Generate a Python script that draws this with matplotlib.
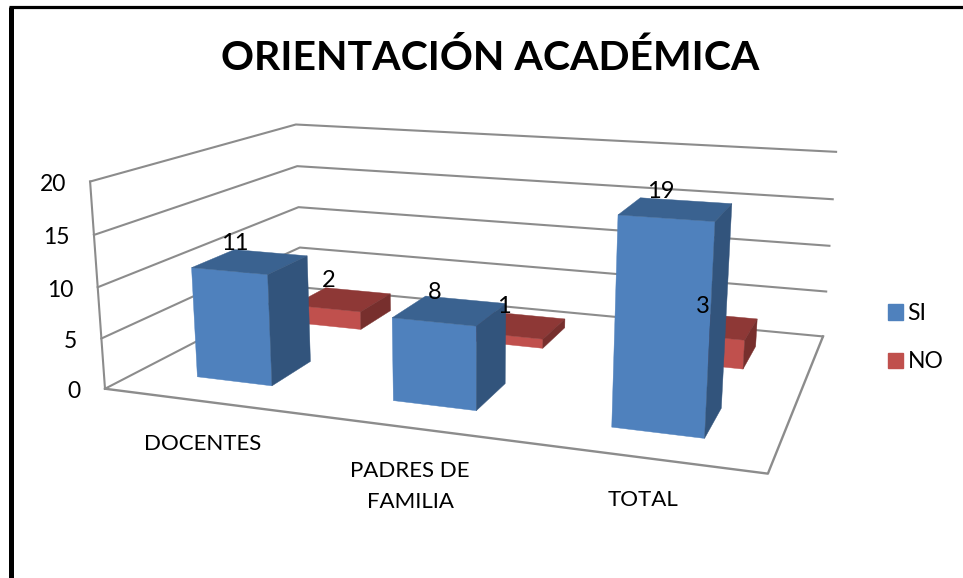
import numpy as np
import matplotlib
matplotlib.use("Agg")
import matplotlib.pyplot as plt
from matplotlib.patches import Polygon, Patch

plt.rcParams['font.family'] = ['Lato', 'DejaVu Sans']

# Datos
titulo = "ORIENTACIÓN ACADÉMICA"
categorias = ["DOCENTES", "PADRES DE\nFAMILIA", "TOTAL"]
si = [11, 8, 19]
no = [2, 1, 3]
ticks_z = [0, 5, 10, 15, 20]

# Estilo
Z_MAX = 20
ANCHO = 0.131
FONDO = 0.20
CENTRO_SI = 0.25
CENTRO_NO = 0.75
COLOR_SI = ("#4F81BD", "#3A6290", "#32547C")
COLOR_NO = ("#C0504D", "#8E3836", "#772F2D")
GRIS = "#8C8C8C"


# Camara: esquinas de la caja (u, v, z) -> pixel de la imagen
esquinas = [((0, 0, 0), (105, 388)), ((0, 0, 1), (90, 182)), ((1, 0, 0), (768, 474)),
            ((0, 1, 0), (301, 288)), ((0, 1, 1), (296, 124)),
            ((1, 1, 0), (823, 336)), ((1, 1, 1), (836, 152))]


def calcular_camara(puntos):
    filas = []
    for (u, v, w), (px, py) in puntos:
        filas.append([u, v, w, 1, 0, 0, 0, 0, -px*u, -px*v, -px*w, -px])
        filas.append([0, 0, 0, 0, u, v, w, 1, -py*u, -py*v, -py*w, -py])
    return np.linalg.svd(np.array(filas, dtype=float))[2][-1].reshape(3, 4)


CAM = calcular_camara(esquinas)


def proyectar(u, v, z):
    p = CAM @ np.array([u, v, z / Z_MAX, 1.0])
    return p[0] / p[2], p[1] / p[2]


def barra(ax, i, valor, centro_v, colores):
    cu = (i + 0.5) / 3 + 0.001
    u0, u1 = cu - ANCHO / 2, cu + ANCHO / 2
    v0, v1 = centro_v - FONDO / 2, centro_v + FONDO / 2
    frente = [(u0, v0, 0), (u1, v0, 0), (u1, v0, valor), (u0, v0, valor)]
    arriba = [(u0, v0, valor), (u1, v0, valor), (u1, v1, valor), (u0, v1, valor)]
    lado = [(u1, v0, 0), (u1, v1, 0), (u1, v1, valor), (u1, v0, valor)]
    for cara, color in zip((frente, arriba, lado), colores):
        ax.add_patch(Polygon([proyectar(*p) for p in cara], closed=True, zorder=3,
                             facecolor=color, edgecolor=color, linewidth=0.3))


fig = plt.figure(figsize=(9.63, 5.78), dpi=100)
ax = fig.add_axes([0, 0, 1, 1])
ax.set_xlim(0, 963)
ax.set_ylim(578, 0)
ax.axis("off")

# Marco negro
ax.plot([11, 11], [578, 6.5], color="black", linewidth=3.6, solid_capstyle="butt")
ax.plot([8.5, 963], [6.5, 6.5], color="black", linewidth=2.3, solid_capstyle="butt")

# Paredes y piso
for t in ticks_z:
    a, b, c = proyectar(0, 0, t), proyectar(0, 1, t), proyectar(1, 1, t)
    ax.plot([a[0], b[0], c[0]], [a[1], b[1], c[1]], color=GRIS, linewidth=1.5, zorder=2)
    ax.text(a[0] - 24, a[1] + 3, str(t), ha="right", va="center", fontsize=16.5)

a, b = proyectar(0, 0, 0), proyectar(0, 0, Z_MAX)
ax.plot([a[0], b[0]], [a[1], b[1]], color=GRIS, linewidth=1.5, zorder=2)
piso = [proyectar(0, 0, 0), proyectar(1, 0, 0), proyectar(1, 1, 0)]
ax.plot([p[0] for p in piso], [p[1] for p in piso], color=GRIS, linewidth=1.7, zorder=2)

# Barras: primero la serie de atras
for i, valor in enumerate(no):
    barra(ax, i, valor, CENTRO_NO, COLOR_NO)
for i, valor in enumerate(si):
    barra(ax, i, valor, CENTRO_SI, COLOR_SI)

# Etiquetas de datos
desvio_no = [-13, -13, -7]
for i in range(3):
    cu = (i + 0.5) / 3
    x, y = proyectar(cu, CENTRO_SI, si[i])
    ax.text(x - 15, y - 18, str(si[i]), ha="center", va="center", fontsize=17, zorder=5)
    x, y = proyectar(cu, CENTRO_NO, no[i])
    ax.text(x + desvio_no[i], y - 19, str(no[i]), ha="center", va="center", fontsize=17, zorder=5)

# Categorias
for i, nombre in enumerate(categorias):
    x, y = proyectar((i + 0.5) / 3, 0, 0)
    ax.text(x + 2, y + 33, nombre, ha="center", va="top", fontsize=16, linespacing=1.7)

ax.text(490, 58, titulo, ha="center", va="center", fontsize=29.5, fontweight="bold")

# Leyenda
ax.legend(handles=[Patch(color=COLOR_SI[0], label="SI"), Patch(color=COLOR_NO[0], label="NO")],
          loc="upper left", bbox_to_anchor=(881, 296), bbox_transform=ax.transData,
          frameon=False, fontsize=16.5, handlelength=0.66, handleheight=0.66,
          handletextpad=0.2, labelspacing=1.2, borderpad=0.3, borderaxespad=0)

fig.savefig("out.png", dpi=100)
